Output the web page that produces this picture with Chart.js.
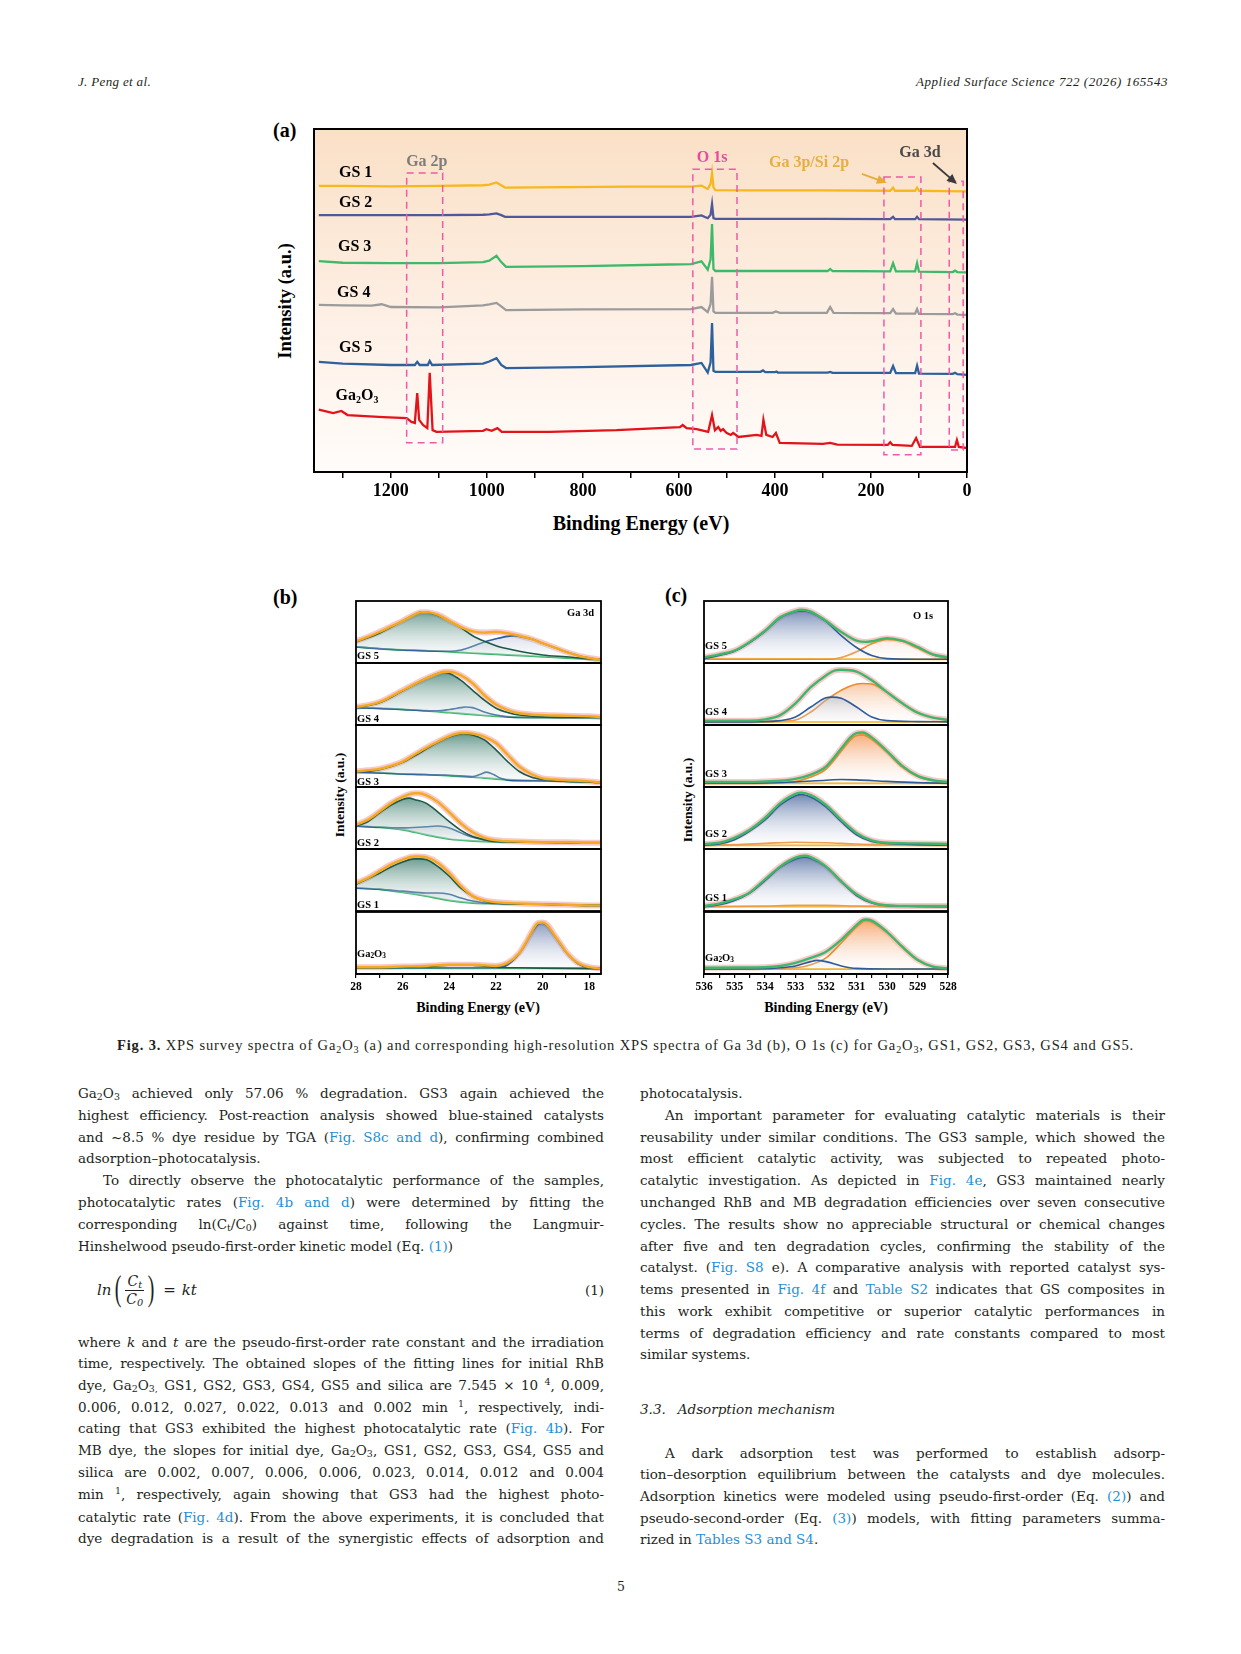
<!DOCTYPE html>
<html>
<head>
<meta charset="utf-8">
<script src="https://cdn.jsdelivr.net/npm/chart.js@4.4.1/dist/chart.umd.min.js"></script>
<style>
html,body{margin:0;padding:0;background:#fff;}
#page{position:relative;width:1241px;height:1654px;overflow:hidden;font-family:"Liberation Serif","Times New Roman",serif;color:#231f20;}
.abs{position:absolute;white-space:nowrap;}
.c{transform:translate(-50%,-50%);}
.rot{transform:translate(-50%,-50%) rotate(-90deg);}
.lbl{position:absolute;white-space:nowrap;font-weight:bold;color:#000;z-index:5;transform:translateY(-50%);}
.txt{font-family:"DejaVu Serif","Liberation Serif",serif;font-size:13.5px;}
.line{position:absolute;height:22px;line-height:22px;font-family:"DejaVu Serif","Liberation Serif",serif;font-size:13.5px;white-space:nowrap;text-align:justify;text-align-last:justify;box-sizing:border-box;}
.line.end{text-align-last:left;}
.ind{padding-left:25px;}
.ln{color:#1d8fd6;}
sub{font-size:70%;vertical-align:-0.25em;line-height:0;}
sup{font-size:70%;vertical-align:0.5em;line-height:0;}
canvas{position:absolute;}
</style>
</head>
<body>
<div id="page">

<div id="hl" class="abs" style="left:78px;top:73px;font-size:13px;font-style:italic;line-height:18px;">J. Peng et al.</div>
<div id="hr" class="abs" style="right:73px;top:73px;font-size:13px;font-style:italic;line-height:18px;">Applied Surface Science 722 (2026) 165543</div>

<!-- figure labels -->
<div class="abs" style="left:273px;top:118px;font-size:20px;font-weight:bold;color:#000;line-height:24px;">(a)</div>
<div class="abs" style="left:273px;top:585px;font-size:20px;font-weight:bold;color:#000;line-height:24px;">(b)</div>
<div class="abs" style="left:665px;top:583px;font-size:20px;font-weight:bold;color:#000;line-height:24px;">(c)</div>

<div class="abs rot" style="left:285px;top:301px;font-size:18.5px;font-weight:bold;color:#000;">Intensity (a.u.)</div>
<div class="abs c" style="left:641px;top:523px;font-size:20px;font-weight:bold;color:#000;">Binding Energy (eV)</div>

<div class="abs rot" style="left:340px;top:795px;font-size:13.5px;font-weight:bold;color:#000;">Intensity (a.u.)</div>
<div class="abs c" style="left:478px;top:1008px;font-size:14px;font-weight:bold;color:#000;">Binding Energy (eV)</div>
<div class="abs rot" style="left:688px;top:800px;font-size:13.5px;font-weight:bold;color:#000;">Intensity (a.u.)</div>
<div class="abs c" style="left:826px;top:1008px;font-size:14px;font-weight:bold;color:#000;">Binding Energy (eV)</div>

<div id="cap" class="abs" style="left:117px;top:1035px;font-size:14.5px;line-height:20px;"><b>Fig. 3.</b> XPS survey spectra of Ga<sub>2</sub>O<sub>3</sub> (a) and corresponding high-resolution XPS spectra of Ga 3d (b), O 1s (c) for Ga<sub>2</sub>O<sub>3</sub>, GS1, GS2, GS3, GS4 and GS5.</div>

<!-- left column -->
<div class="line" style="left:78px;width:526px;top:1082px;">Ga<sub>2</sub>O<sub>3</sub> achieved only 57.06 % degradation. GS3 again achieved the</div>
<div class="line" style="left:78px;width:526px;top:1104px;">highest efficiency. Post-reaction analysis showed blue-stained catalysts</div>
<div class="line" style="left:78px;width:526px;top:1126px;">and ~8.5 % dye residue by TGA (<span class="ln">Fig. S8c and d</span>), confirming combined</div>
<div class="line end" style="left:78px;width:526px;top:1147px;">adsorption–photocatalysis.</div>
<div class="line ind" style="left:78px;width:526px;top:1169px;">To directly observe the photocatalytic performance of the samples,</div>
<div class="line" style="left:78px;width:526px;top:1191px;">photocatalytic rates (<span class="ln">Fig. 4b and d</span>) were determined by fitting the</div>
<div class="line" style="left:78px;width:526px;top:1213px;">corresponding ln(C<sub>t</sub>/C<sub>0</sub>) against time, following the Langmuir-</div>
<div class="line end" style="left:78px;width:526px;top:1235px;">Hinshelwood pseudo-first-order kinetic model (Eq. <span class="ln">(1)</span>)</div>

<div class="abs txt" style="left:97px;top:1270px;height:40px;display:flex;align-items:center;font-size:15px;font-style:italic;">
  <span>ln</span>
  <span style="font-size:36px;font-style:normal;font-family:'Liberation Serif';margin:0 1px 4px 1px;display:inline-block;transform:scaleX(0.55);">(</span>
  <span style="display:inline-flex;flex-direction:column;align-items:center;font-size:14px;line-height:17px;">
    <span style="border-bottom:1px solid #231f20;padding:0 2px;">C<sub>t</sub></span>
    <span>C<sub>0</sub></span>
  </span>
  <span style="font-size:36px;font-style:normal;font-family:'Liberation Serif';margin:0 1px 4px 1px;display:inline-block;transform:scaleX(0.55);">)</span>
  <span style="font-style:normal;margin:0 6px 0 5px;">=</span>
  <span>kt</span>
</div>
<div class="abs txt" style="right:637px;top:1279px;line-height:22px;">(1)</div>

<div class="line" style="left:78px;width:526px;top:1331px;">where <i>k</i> and <i>t</i> are the pseudo-first-order rate constant and the irradiation</div>
<div class="line" style="left:78px;width:526px;top:1352px;">time, respectively. The obtained slopes of the fitting lines for initial RhB</div>
<div class="line" style="left:78px;width:526px;top:1374px;">dye, Ga<sub>2</sub>O<sub>3,</sub> GS1, GS2, GS3, GS4, GS5 and silica are 7.545 × 10 <sup>4</sup>, 0.009,</div>
<div class="line" style="left:78px;width:526px;top:1396px;">0.006, 0.012, 0.027, 0.022, 0.013 and 0.002 min <sup>1</sup>, respectively, indi-</div>
<div class="line" style="left:78px;width:526px;top:1417px;">cating that GS3 exhibited the highest photocatalytic rate (<span class="ln">Fig. 4b</span>). For</div>
<div class="line" style="left:78px;width:526px;top:1439px;">MB dye, the slopes for initial dye, Ga<sub>2</sub>O<sub>3</sub>, GS1, GS2, GS3, GS4, GS5 and</div>
<div class="line" style="left:78px;width:526px;top:1461px;">silica are 0.002, 0.007, 0.006, 0.006, 0.023, 0.014, 0.012 and 0.004</div>
<div class="line" style="left:78px;width:526px;top:1483px;">min <sup>1</sup>, respectively, again showing that GS3 had the highest photo-</div>
<div class="line" style="left:78px;width:526px;top:1506px;">catalytic rate (<span class="ln">Fig. 4d</span>). From the above experiments, it is concluded that</div>
<div class="line" style="left:78px;width:526px;top:1527px;">dye degradation is a result of the synergistic effects of adsorption and</div>

<!-- right column -->
<div class="line end" style="left:640px;width:525px;top:1082px;">photocatalysis.</div>
<div class="line ind" style="left:640px;width:525px;top:1104px;">An important parameter for evaluating catalytic materials is their</div>
<div class="line" style="left:640px;width:525px;top:1126px;">reusability under similar conditions. The GS3 sample, which showed the</div>
<div class="line" style="left:640px;width:525px;top:1147px;">most efficient catalytic activity, was subjected to repeated photo-</div>
<div class="line" style="left:640px;width:525px;top:1169px;">catalytic investigation. As depicted in <span class="ln">Fig. 4e</span>, GS3 maintained nearly</div>
<div class="line" style="left:640px;width:525px;top:1191px;">unchanged RhB and MB degradation efficiencies over seven consecutive</div>
<div class="line" style="left:640px;width:525px;top:1213px;">cycles. The results show no appreciable structural or chemical changes</div>
<div class="line" style="left:640px;width:525px;top:1235px;">after five and ten degradation cycles, confirming the stability of the</div>
<div class="line" style="left:640px;width:525px;top:1256px;">catalyst. (<span class="ln">Fig. S8</span> e). A comparative analysis with reported catalyst sys-</div>
<div class="line" style="left:640px;width:525px;top:1278px;">tems presented in <span class="ln">Fig. 4f</span> and <span class="ln">Table S2</span> indicates that GS composites in</div>
<div class="line" style="left:640px;width:525px;top:1300px;">this work exhibit competitive or superior catalytic performances in</div>
<div class="line" style="left:640px;width:525px;top:1322px;">terms of degradation efficiency and rate constants compared to most</div>
<div class="line end" style="left:640px;width:525px;top:1343px;">similar systems.</div>
<div class="abs txt" style="left:640px;top:1398px;line-height:22px;font-style:italic;">3.3.<span style="display:inline-block;width:12px;"></span>Adsorption mechanism</div>
<div class="line ind" style="left:640px;width:525px;top:1442px;">A dark adsorption test was performed to establish adsorp-</div>
<div class="line" style="left:640px;width:525px;top:1463px;">tion–desorption equilibrium between the catalysts and dye molecules.</div>
<div class="line" style="left:640px;width:525px;top:1485px;">Adsorption kinetics were modeled using pseudo-first-order (Eq. <span class="ln">(2)</span>) and</div>
<div class="line" style="left:640px;width:525px;top:1507px;">pseudo-second-order (Eq. <span class="ln">(3)</span>) models, with fitting parameters summa-</div>
<div class="line end" style="left:640px;width:525px;top:1528px;">rized in <span class="ln">Tables S3 and S4</span>.</div>

<div class="abs c txt" style="left:621px;top:1586px;font-size:12.5px;">5</div>

<!-- panel labels -->
<div class="lbl" style="left:567px;top:612px;font-size:10.5px;">Ga 3d</div>
<div class="lbl" style="left:913px;top:615px;font-size:10.5px;">O 1s</div>
<div class="lbl" style="left:357px;top:655px;font-size:10.5px;">GS 5</div>
<div class="lbl" style="left:357px;top:718px;font-size:10.5px;">GS 4</div>
<div class="lbl" style="left:357px;top:781px;font-size:10.5px;">GS 3</div>
<div class="lbl" style="left:357px;top:842px;font-size:10.5px;">GS 2</div>
<div class="lbl" style="left:357px;top:904px;font-size:10.5px;">GS 1</div>
<div class="lbl" style="left:357px;top:953px;font-size:10.5px;">Ga<sub>2</sub>O<sub>3</sub></div>
<div class="lbl" style="left:705px;top:645px;font-size:10.5px;">GS 5</div>
<div class="lbl" style="left:705px;top:711px;font-size:10.5px;">GS 4</div>
<div class="lbl" style="left:705px;top:773px;font-size:10.5px;">GS 3</div>
<div class="lbl" style="left:705px;top:833px;font-size:10.5px;">GS 2</div>
<div class="lbl" style="left:705px;top:897px;font-size:10.5px;">GS 1</div>
<div class="lbl" style="left:705px;top:957px;font-size:10.5px;">Ga<sub>2</sub>O<sub>3</sub></div>

</div>

<script>
// ---------- (a) XPS survey, [binding energy eV, intensity a.u.] ----------
const surveyNames = ['GS 1', 'GS 2', 'GS 3', 'GS 4', 'GS 5', 'Ga2O3'];
const surveyColors = ['#f6b81e', '#4f5899', '#3dba69', '#9b9b9b', '#2e609c', '#e2141a'];

const gs1Survey = [[1350,83.4],[1300,83.4],[1200,83.3],[1100,83.4],[1008,83.6],[995,83.8],[980,84.4],[970,83.6],[962,82.9],[900,83.0],[700,83.2],[575,83.2],[553,83.5],[540,82.5],[534,84.0],[531,87.2],[528,83.0],[524,82.2],[450,82.1],[300,82.1],[160,82.0],[154,82.9],[150,82.0],[108,82.0],[104,82.9],[100,82.0],[50,81.9],[0,81.8]];
const gs2Survey = [[1350,74.9],[1200,74.9],[1100,74.9],[1008,75.0],[995,75.1],[980,75.4],[970,74.9],[962,74.4],[800,74.4],[575,74.4],[553,74.8],[540,74.0],[534,75.0],[531,78.1],[528,74.0],[524,73.8],[300,73.8],[160,73.7],[154,74.4],[150,73.7],[108,73.7],[104,74.4],[100,73.7],[0,73.6]];
const gs3Survey = [[1350,61.5],[1300,61.0],[1200,60.9],[1100,60.9],[1008,61.2],[995,61.6],[980,63.0],[970,61.2],[960,59.8],[800,60.0],[620,60.5],[575,60.6],[553,61.4],[540,59.0],[534,62.0],[531,72.3],[528,59.2],[524,58.6],[400,58.6],[290,58.6],[285,59.2],[280,58.6],[160,58.5],[154,60.9],[148,58.5],[108,58.5],[104,60.9],[100,58.4],[30,58.3],[25,58.7],[20,58.3],[0,58.2]];
const gs4Survey = [[1350,48.7],[1300,48.6],[1240,48.5],[1219,48.9],[1200,48.1],[1100,48.0],[1008,48.6],[995,48.9],[980,49.3],[970,48.3],[960,47.2],[800,47.4],[575,47.5],[553,48.1],[540,46.6],[534,49.0],[531,56.9],[528,46.8],[524,46.4],[405,46.4],[398,46.8],[390,46.4],[292,46.4],[285,48.1],[278,46.4],[160,46.3],[154,47.5],[148,46.2],[108,46.2],[104,47.5],[100,46.1],[30,46.0],[25,46.3],[20,45.9],[0,45.8]];
const gs5Survey = [[1350,32.1],[1300,31.6],[1200,31.2],[1150,31.2],[1145,32.1],[1140,31.2],[1123,31.2],[1119,32.4],[1114,31.2],[1008,31.6],[995,32.2],[980,33.2],[970,31.2],[960,30.3],[800,30.6],[575,31.2],[553,31.8],[540,29.0],[534,32.0],[531,43.4],[528,29.5],[524,29.2],[430,29.2],[425,29.6],[420,29.1],[400,29.1],[397,29.3],[394,29.0],[290,29.0],[285,29.2],[280,28.9],[160,28.9],[154,30.9],[148,28.8],[108,28.8],[104,31.0],[100,28.7],[30,28.6],[25,28.9],[20,28.5],[0,28.3]];
const ga2o3Survey = [[1350,18.2],[1320,17.2],[1303,17.8],[1290,16.6],[1216,16.0],[1167,15.7],[1157,14.6],[1150,14.3],[1145,23.0],[1141,15.2],[1133,13.7],[1124,12.8],[1119,28.9],[1113,12.2],[1105,11.7],[1008,12.0],[1001,12.5],[990,12.0],[978,12.8],[969,11.7],[869,11.7],[730,12.2],[598,13.1],[592,13.7],[584,12.8],[563,12.5],[539,11.7],[531,16.6],[525,12.2],[518,13.1],[513,12.0],[508,12.5],[501,11.4],[492,10.8],[487,11.4],[476,10.2],[438,10.8],[428,10.5],[424,15.2],[418,10.8],[405,10.2],[398,11.4],[390,8.5],[300,8.2],[285,8.5],[270,8.0],[165,7.9],[160,8.7],[155,7.9],[115,7.6],[106,9.9],[98,7.3],[25,7.3],[21,9.3],[17,7.3],[0,7.0]];
const surveySeries = [gs1Survey, gs2Survey, gs3Survey, gs4Survey, gs5Survey, ga2o3Survey];

// region boxes [eV from, eV to, top, bottom] and annotations
const surveyBoxes = [[1167, 1092, 87.2, 8.5], [571, 479, 88.3, 6.7], [173, 96, 86.0, 5.0], [37, 8, 84.8, 6.4]];
const surveyTags = [
  {parts: [['GS 1', 0]], x: 1308, y: 87.2, color: '#000', align: 'left'},
  {parts: [['GS 2', 0]], x: 1308, y: 78.4, color: '#000', align: 'left'},
  {parts: [['GS 3', 0]], x: 1310, y: 65.6, color: '#000', align: 'left'},
  {parts: [['GS 4', 0]], x: 1312, y: 52.2, color: '#000', align: 'left'},
  {parts: [['GS 5', 0]], x: 1308, y: 36.2, color: '#000', align: 'left'},
  {parts: [['Ga', 0], ['2', 1], ['O', 0], ['3', 1]], x: 1315, y: 22.2, color: '#000', align: 'left'},
  {parts: [['Ga 2p', 0]], x: 1125, y: 90.4, color: '#7d7d7d', align: 'center'},
  {parts: [['O 1s', 0]], x: 531, y: 91.5, color: '#ea489c', align: 'center'},
  {parts: [['Ga 3p/Si 2p', 0]], x: 329, y: 90.1, color: '#e6ae45', align: 'center'},
  {parts: [['Ga 3d', 0]], x: 98, y: 93.0, color: '#4a4a4a', align: 'center'}
];
const surveyArrows = [
  {from: [219, 86.9], to: [167, 84.3], color: '#e8ac36'},
  {from: [71, 90.1], to: [21, 84.0], color: '#3a3a3a'}
];

// ---------- (b) Ga 3d high resolution, [eV, intensity] ----------
const ga3dSamples = ['GS 5', 'GS 4', 'GS 3', 'GS 2', 'GS 1', 'Ga2O3'];
const ga3dEnv = [
  [[28,35],[27.5,42],[27,50],[26.5,59],[26,68],[25.5,78],[25.2,82],[25,82],[24.5,78],[24,68],[23.5,58],[23,51],[22.5,49],[22,50],[21.5,48],[21,44],[20.5,39],[20,32],[19.5,25],[19,18],[18.5,12],[18,8],[17.5,5]],
  [[28,29],[27.5,32],[27,37],[26.5,46],[26,56],[25.5,66],[25,75],[24.5,83],[24.2,86],[24,86],[23.5,80],[23,67],[22.5,48],[22,33],[21.5,24],[21,19],[20.5,17],[20,16],[19,15],[18,14],[17.5,13]],
  [[28,25],[27.5,27],[27,29],[26.5,34],[26,41],[25.5,52],[25,63],[24.5,73],[24,82],[23.5,87],[23.2,87],[23,86],[22.5,81],[22,71],[21.5,52],[21,33],[20.5,21],[20,14],[19.5,12],[19,11],[18,9],[17.5,7]],
  [[28,39],[27.5,47],[27,60],[26.5,74],[26,84],[25.5,90],[25.3,90],[25,87],[24.5,76],[24,59],[23.5,41],[23,27],[22.5,18],[22,14],[21,12],[20,11],[19,11],[18,10],[17.5,10]],
  [[28,45],[27.5,53],[27,64],[26.5,75],[26,83],[25.5,88],[25.3,88],[25,87],[24.5,78],[24,61],[23.5,40],[23,24],[22.5,17],[22,14],[21,12],[20,11],[19,10],[18,9],[17.5,9]],
  [[28,11],[27,11],[26,12],[25,13],[24,15],[23,15],[22.5,14],[22,13],[21.5,18],[21,34],[20.7,52],[20.5,66],[20.2,82],[20,83],[19.8,79],[19.5,63],[19.2,47],[19,36],[18.5,18],[18,11],[17.5,9]]
];
const ga3dPeakA = [
  [[28,34],[27,48],[26,68],[25.5,78],[25.2,82],[25,82],[24.5,77],[24,68],[23.5,57],[23,44],[22.5,35],[22,28],[21.5,23],[21,19],[20,13],[19,10],[18,7],[17.5,6]],
  [[28,28],[27,36],[26,55],[25,75],[24.5,83],[24.3,85],[24,83],[23.5,72],[23,56],[22.5,40],[22,27],[21.5,20],[21,16],[20,13],[18,12],[17.5,12]],
  [[28,24],[27,28],[26,40],[25.5,50],[25,61],[24.5,72],[24,81],[23.4,86],[23,84],[22.5,76],[22,60],[21.5,41],[21,25],[20.5,16],[20,12],[19,9],[18,8],[17.5,7]],
  [[28,37],[27.5,44],[27,58],[26.5,71],[26,80],[25.7,82],[25.5,80],[25,74],[24.5,60],[24,44],[23.5,30],[23,20],[22.5,15],[22,12],[20,11],[18,10],[17.5,10]],
  [[28,43],[27.5,52],[27,61],[26.5,71],[26,79],[25.5,84],[25.3,84],[25,83],[24.5,72],[24,56],[23.5,37],[23,24],[22.5,16],[22,13],[20,11],[18,9],[17.5,9]],
  [[28,10],[27,10],[26,11],[25,12],[24.5,13],[23.7,15],[23,14],[22,11],[21,10],[20,9.5],[18,9],[17.5,9]]
];
const ga3dPeakB = [
  [[28,26],[26,21],[24,19],[23.5,21],[23,27],[22.5,34],[22,39],[21.5,43],[21.2,44],[21,43],[20.5,39],[20,32],[19.5,25],[19,18],[18.5,12],[18,8],[17.5,5]],
  [[28,28],[26,25],[25,23],[24.5,23],[24,25],[23.5,28],[23.3,29],[23,28],[22.5,21],[22,16],[21.5,13],[21,12],[18,12],[17.5,12]],
  [[28,24],[26,21],[24,19],[23,17],[22.7,20],[22.4,24],[22.1,20],[21.8,14],[21.5,11],[21,10],[20,10],[18,8],[17.5,7]],
  [[28,37],[27,35],[26,34],[25,36],[24.5,37],[24.2,36],[24,34],[23.5,26],[23,19],[22.5,15],[22,12],[20,11],[18,10],[17.5,10]],
  [[28,37],[27,35],[26,32],[25,29],[24.5,29],[24,27],[23.5,21],[23,16],[22.5,13],[22,12],[20,11],[18,9],[17.5,9]],
  [[28,10],[22,10],[21.5,15],[21,33],[20.7,51],[20.5,65],[20.2,80],[20,82],[19.8,78],[19.5,62],[19.2,46],[19,35],[18.5,17],[18,10],[17.5,9]]
];
const ga3dBase = [
  [[28,26],[27,23],[26,21],[25,20],[24,18],[23,16],[22,14],[21,12],[20,10],[19,8],[18,6],[17.5,5]],
  [[28,28],[27,27],[26,25],[25,23],[24,20],[23,17],[22,14],[21,12.5],[20,12],[18,12],[17.5,12]],
  [[28,24],[27,23],[26,21],[25,20],[24,18],[23,16],[22,13],[21,11],[20,10],[19,9],[18,8],[17.5,7]],
  [[28,37],[27,35],[26,31],[25,23],[24,16],[23,13],[22,11.5],[20,11],[18,10],[17.5,10]],
  [[28,37],[27,35],[26,30],[25,24],[24,17],[23,13],[22,12],[20,11],[18,9],[17.5,9]],
  [[28,10],[26,9.5],[24,9.2],[22,9],[20,9],[18,8.5],[17.5,8]]
];

// ---------- (c) O 1s high resolution, [eV, intensity] ----------
const o1sEnv = [
  [[536,9],[535.5,14],[535,20],[534.5,34],[534,52],[533.5,74],[533,84],[532.8,86],[532.5,83],[532,68],[531.5,50],[531,36],[530.7,34],[530.5,35],[530,40],[529.5,36],[529,26],[528.5,14],[528,9]],
  [[536,7],[535,7],[534.5,7],[534,9],[533.5,16],[533,35],[532.5,61],[532,80],[531.7,88],[531.5,89],[531,86],[530.5,72],[530,53],[529.5,35],[529,20],[528.5,12],[528,8]],
  [[536,8],[534.5,8],[534,9],[533.5,10],[533,13],[532.5,20],[532,33],[531.5,62],[531.2,80],[531,87],[530.8,88],[530.5,80],[530,58],[529.5,34],[529,18],[528.5,11],[528,8]],
  [[536,8],[535.5,10],[535,18],[534.5,31],[534,50],[533.5,74],[533,89],[532.8,91],[532.5,87],[532,71],[531.5,47],[531,26],[530.5,14],[530,10],[529,9],[528,8]],
  [[536,8],[535.5,12],[535,19],[534.5,30],[534,51],[533.5,72],[533,86],[532.7,89],[532.5,87],[532,72],[531.5,48],[531,27],[530.5,14],[530,9],[529,8],[528,8]],
  [[536,10],[535,10.5],[534,11],[533.5,13],[533,18],[532.5,26],[532,36],[531.5,55],[531,79],[530.8,87],[530.7,88],[530.5,86],[530,68],[529.5,44],[529,23],[528.5,12],[528,9]]
];
const o1sPeakA = [
  [[536,7],[535.5,12],[535,19],[534.5,33],[534,51],[533.5,73],[533,83],[532.8,84],[532.5,82],[532,67],[531.5,44],[531,25],[530.5,12],[530,7],[529,6],[528,6]],
  [[536,5],[534,5.5],[533.5,7],[533,13],[532.5,29],[532,44],[531.8,45],[531.5,43],[531,29],[530.5,13],[530,7],[529,5.5],[528,5]],
  [[536,6],[534,6.5],[533,8],[532,11],[531.5,12],[531,11.5],[530,9],[529,7],[528,6]],
  [[536,6],[535.5,8],[535,15],[534.5,29],[534,47],[533.5,71],[533,86],[532.8,88],[532.5,84],[532,68],[531.5,44],[531,23],[530.5,12],[530,9],[529,7],[528,6]],
  [[536,7],[535.5,10],[535,17],[534.5,29],[534,49],[533.5,71],[533,84],[532.7,87],[532.5,85],[532,71],[531.5,47],[531,25],[530.5,13],[530,9],[529,7.5],[528,7]],
  [[536,8],[534,8.5],[533.5,10],[533,13],[532.5,20],[532.3,22],[532,20],[531.5,13],[531,9],[530,8],[528,8]]
];
const o1sPeakB = [
  [[536,6],[532,6],[531.5,9],[531,18],[530.5,31],[530,38],[529.5,35],[529,24],[528.5,13],[528,7]],
  [[536,5],[533.5,6],[533,8],[532.5,21],[532,40],[531.5,56],[531,66],[530.8,67],[530.5,66],[530,53],[529.5,35],[529,20],[528.5,12],[528,8]],
  [[536,6],[534,6],[533,9],[532.5,16],[532,29],[531.5,58],[531.2,76],[531,83],[530.8,84],[530.5,77],[530,56],[529.5,32],[529,17],[528.5,10],[528,7]],
  [[536,6],[535,7],[534,9],[533,11],[532,10],[531,8],[530,7],[528,6]],
  [[536,7],[534,8],[533,9],[532,9],[531,8],[530,7.5],[528,7]],
  [[536,8],[534,8.5],[533,10],[532.5,15],[532,26],[531.5,50],[531,76],[530.7,86],[530.5,84],[530,67],[529.5,43],[529,22],[528.5,12],[528,9]]
];
const o1sBase = [
  [[536,7],[532,6.5],[528,6]],
  [[536,5],[528,5]],
  [[536,6],[528,6]],
  [[536,6],[528,6]],
  [[536,7],[528,7]],
  [[536,8],[528,8]]
];

// ---------- helpers ----------
Chart.defaults.font.family = '"Liberation Serif", "Times New Roman", serif';
Chart.defaults.animation = false;

const pts = arr => arr.map(([x, y]) => ({x, y}));

const framePlugin = {
  id: 'frame',
  afterDraw(chart, args, opts) {
    const {ctx, chartArea: a} = chart;
    ctx.save();
    ctx.strokeStyle = '#000';
    ctx.lineWidth = opts.width || 2;
    ctx.strokeRect(a.left, a.top, a.right - a.left, a.bottom - a.top);
    ctx.restore();
  }
};

const peachBg = {
  id: 'peachBg',
  beforeDraw(chart) {
    const {ctx, chartArea: a} = chart;
    const g = ctx.createLinearGradient(0, a.top, 0, a.bottom);
    g.addColorStop(0, '#fae0c6');
    g.addColorStop(0.5, '#fdeee2');
    g.addColorStop(1, '#fffcfa');
    ctx.save();
    ctx.fillStyle = g;
    ctx.fillRect(a.left, a.top, a.right - a.left, a.bottom - a.top);
    ctx.restore();
  }
};

function drawRich(ctx, parts, x, y, size, align) {
  const widths = parts.map(([t, s]) => {
    ctx.font = 'bold ' + (s ? size * 0.62 : size) + 'px "Liberation Serif"';
    return ctx.measureText(t).width;
  });
  const total = widths.reduce((a, b) => a + b, 0);
  let cx = align === 'center' ? x - total / 2 : x;
  parts.forEach(([t, s], i) => {
    ctx.font = 'bold ' + (s ? size * 0.62 : size) + 'px "Liberation Serif"';
    ctx.fillText(t, cx, s ? y + size * 0.3 : y);
    cx += widths[i];
  });
}

const surveyNotes = {
  id: 'surveyNotes',
  afterDatasetsDraw(chart) {
    const {ctx, scales: {x, y}} = chart;
    ctx.save();
    ctx.setLineDash([7, 5]);
    ctx.strokeStyle = '#ef5aa8';
    ctx.lineWidth = 1.5;
    surveyBoxes.forEach(([e1, e2, t, b]) => {
      const x1 = x.getPixelForValue(e1), x2 = x.getPixelForValue(e2);
      const y1 = y.getPixelForValue(t), y2 = y.getPixelForValue(b);
      ctx.strokeRect(Math.min(x1, x2), y1, Math.abs(x2 - x1), y2 - y1);
    });
    ctx.setLineDash([]);
    ctx.textBaseline = 'middle';
    ctx.textAlign = 'left';
    surveyTags.forEach(tag => {
      ctx.fillStyle = tag.color;
      drawRich(ctx, tag.parts, x.getPixelForValue(tag.x), y.getPixelForValue(tag.y), 16, tag.align);
    });
    surveyArrows.forEach(ar => {
      const x1 = x.getPixelForValue(ar.from[0]), y1 = y.getPixelForValue(ar.from[1]);
      const x2 = x.getPixelForValue(ar.to[0]), y2 = y.getPixelForValue(ar.to[1]);
      const ang = Math.atan2(y2 - y1, x2 - x1);
      ctx.strokeStyle = ar.color;
      ctx.fillStyle = ar.color;
      ctx.lineWidth = 1.8;
      ctx.beginPath();
      ctx.moveTo(x1, y1);
      ctx.lineTo(x2 - 6 * Math.cos(ang), y2 - 6 * Math.sin(ang));
      ctx.stroke();
      ctx.beginPath();
      ctx.moveTo(x2, y2);
      ctx.lineTo(x2 - 10 * Math.cos(ang) + 4.5 * Math.sin(ang), y2 - 10 * Math.sin(ang) - 4.5 * Math.cos(ang));
      ctx.lineTo(x2 - 10 * Math.cos(ang) - 4.5 * Math.sin(ang), y2 - 10 * Math.sin(ang) + 4.5 * Math.cos(ang));
      ctx.closePath();
      ctx.fill();
    });
    ctx.restore();
  }
};

function makeCanvas(left, top, w, h) {
  const c = document.createElement('canvas');
  c.width = w;
  c.height = h;
  c.style.left = left + 'px';
  c.style.top = top + 'px';
  document.getElementById('page').appendChild(c);
  return c;
}

// ---------- (a) ----------
new Chart(makeCanvas(274, 119, 713, 400), {
  type: 'line',
  data: {
    datasets: surveySeries.map((s, i) => ({
      label: surveyNames[i],
      data: pts(s),
      borderColor: surveyColors[i],
      borderWidth: 2.3,
      pointRadius: 0,
      tension: 0,
      fill: false
    }))
  },
  options: {
    responsive: false,
    events: [],
    layout: {padding: {left: 40, top: 10, right: 20, bottom: 7}},
    plugins: {legend: {display: false}, tooltip: {enabled: false}, frame: {width: 2}},
    scales: {
      x: {
        type: 'linear', reverse: true, min: 0, max: 1360,
        afterFit: s => { s.height = 40; },
        ticks: {stepSize: 100, includeBounds: false, autoSkip: false, maxRotation: 0, padding: 3, color: '#000',
                font: {size: 18, weight: 'bold'}, callback: v => (v % 200 === 0 ? String(v) : '')},
        grid: {drawOnChartArea: false, drawTicks: true, tickLength: 6, color: '#000', lineWidth: 1.5},
        border: {color: '#000', width: 2}
      },
      y: {display: false, min: 0, max: 100}
    }
  },
  plugins: [peachBg, surveyNotes, framePlugin]
});

// ---------- (b), (c) stacked panels ----------
const panelTops = [601, 663, 725, 787, 849, 912];
const panelHeight = 62;

function gradient(top) {
  return ctx => {
    const {chart} = ctx;
    const a = chart.chartArea;
    if (!a) return top;
    const g = chart.ctx.createLinearGradient(0, a.top, 0, a.bottom);
    g.addColorStop(0, top);
    g.addColorStop(1, 'rgba(250,250,252,0.1)');
    return g;
  };
}

function stackPanel(left, width, i, curves, style, axis) {
  const last = i === panelTops.length - 1;
  const h = panelHeight + 2 + (last ? 30 : 2);
  const datasets = [
    {data: pts(curves.env), borderColor: style.env, borderWidth: 2.4},
    {data: pts(curves.a), borderColor: style.a, borderWidth: 1.6, fill: 3, backgroundColor: gradient(style.fa)},
    {data: pts(curves.b), borderColor: style.b, borderWidth: 1.6, fill: 3, backgroundColor: gradient(style.fb)},
    {data: pts(curves.bg), borderColor: style.bg, borderWidth: 1.9},
    {data: pts(curves.env), borderColor: 'rgba(240,135,135,0.45)', borderWidth: 6}
  ].map(d => Object.assign({pointRadius: 0, cubicInterpolationMode: 'monotone', fill: false}, d));

  new Chart(makeCanvas(left - 16, panelTops[i] - 2, width + 32, h), {
    type: 'line',
    data: {datasets},
    options: {
      responsive: false,
      events: [],
      layout: {padding: {left: 16, right: 16, top: 2, bottom: last ? 0 : 2}},
      plugins: {legend: {display: false}, tooltip: {enabled: false}, frame: {width: 1.8}},
      scales: {
        x: {
          type: 'linear', reverse: true, min: axis.min, max: axis.max, display: last,
          afterFit: s => { if (last) s.height = 30; },
          ticks: {stepSize: axis.step, includeBounds: false, autoSkip: false, maxRotation: 0, padding: 2, color: '#000',
                  font: {size: 11.5, weight: 'bold'}, callback: v => (axis.show(v) ? String(Math.round(v)) : '')},
          grid: {drawOnChartArea: false, drawTicks: true, tickLength: 4, color: '#000', lineWidth: 1.2},
          border: {color: '#000', width: 1.8}
        },
        y: {display: false, min: 0, max: 100}
      }
    },
    plugins: [framePlugin]
  });
}

const ga3dStyle = {env: '#f4a91e', a: '#1c5a47', b: '#2e5c98', bg: '#3fb76b',
                   fa: 'rgba(38,110,92,0.92)', fb: 'rgba(58,88,148,0.85)'};
const o1sStyle = {env: '#3fb76b', a: '#2e5c98', b: '#f08a2b', bg: '#f4b51e',
                  fa: 'rgba(55,88,148,0.9)', fb: 'rgba(244,132,52,0.9)'};
const ga3dAxis = {min: 17.5, max: 28, step: 1, show: v => Math.abs(v % 2) < 1e-6};
const o1sAxis = {min: 528, max: 536, step: 0.5, show: v => Math.abs(v - Math.round(v)) < 1e-6};

ga3dSamples.forEach((name, i) => {
  stackPanel(356, 245, i, {env: ga3dEnv[i], a: ga3dPeakA[i], b: ga3dPeakB[i], bg: ga3dBase[i]}, ga3dStyle, ga3dAxis);
  stackPanel(704, 244, i, {env: o1sEnv[i], a: o1sPeakA[i], b: o1sPeakB[i], bg: o1sBase[i]}, o1sStyle, o1sAxis);
});

// ---------- text widths ----------
function fitWidth(id, target) {
  const el = document.getElementById(id);
  const n = el.textContent.length;
  const w = el.getBoundingClientRect().width;
  el.style.letterSpacing = ((target - w) / n) + 'px';
}
fitWidth('cap', 1017);
fitWidth('hl', 73);
fitWidth('hr', 252);

// keep over-long justified lines inside their column
document.querySelectorAll('.line').forEach(el => {
  const target = el.offsetWidth;
  el.style.width = 'auto';
  el.style.textAlignLast = 'left';
  const natural = el.offsetWidth;
  el.style.width = target + 'px';
  el.style.textAlignLast = '';
  if (natural > target - 2) {
    el.style.letterSpacing = ((target - 2 - natural) / el.textContent.length) + 'px';
  }
});
</script>
</body>
</html>
